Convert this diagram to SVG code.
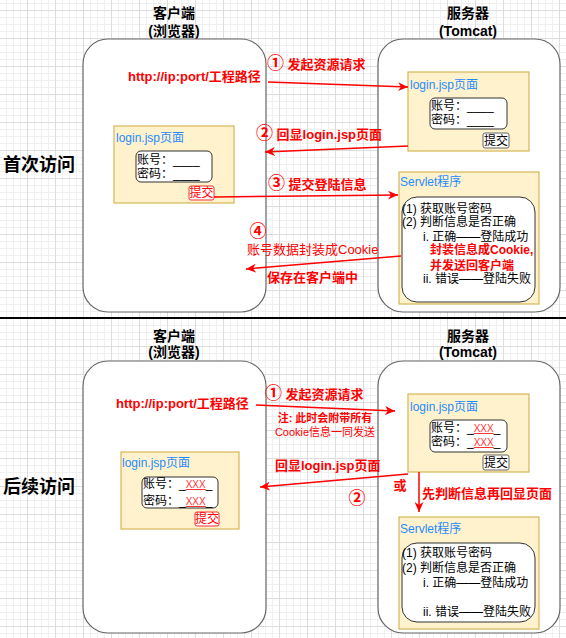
<svg xmlns="http://www.w3.org/2000/svg" width="566" height="638" viewBox="0 0 566 638">
<defs>
<pattern id="grid" width="28" height="28" patternUnits="userSpaceOnUse" x="-1" y="10">
<path d="M7.5 0V28M14.5 0V28M21.5 0V28M0 7.5H28M0 14.5H28M0 21.5H28" stroke="#f0f0f0" stroke-width="1" fill="none"/>
<path d="M0.5 0V28M0 0.5H28" stroke="#dddddd" stroke-width="1" fill="none"/>
</pattern>
<marker id="arr" markerUnits="userSpaceOnUse" markerWidth="11" markerHeight="9" refX="10" refY="4.5" orient="auto">
<path d="M0,0 L10,4.5 L0,9 L3,4.5 z" fill="#ff0000"/>
</marker>
<style>
text{font-family:"Liberation Sans","Noto Sans CJK SC",sans-serif;}
.title{font-size:14px;font-weight:bold;fill:#000;text-anchor:middle;}
.side{font-size:18px;font-weight:bold;fill:#000;}
.big{fill:#fff;stroke:#666;stroke-width:1.2;}
.page{fill:#fff2cc;stroke:#d6b656;stroke-width:1.2;}
.form{fill:#fff;stroke:#333;stroke-width:1;}
.blue{font-size:12px;fill:#1f8bff;}
.t{font-size:12px;fill:#000;}
.red{font-size:13px;font-weight:bold;fill:#ff0000;}
.rs{font-size:11px;font-weight:bold;fill:#ff0000;text-anchor:middle;}
.num{font-size:17px;}
.btn{fill:#fff;stroke:#666;stroke-width:1;}
.btnr{fill:#fff;stroke:#ff3333;stroke-width:1;}
.conn{stroke:#ff0000;stroke-width:1.5;fill:none;marker-end:url(#arr);}
.x{fill:#ff3333;font-size:10px;text-decoration:underline;}
</style>
</defs>
<rect width="566" height="638" fill="#fff"/>
<rect width="566" height="638" fill="url(#grid)"/>
<line x1="0" y1="318" x2="566" y2="318" stroke="#000" stroke-width="2"/>

<!-- TOP SECTION -->
<g id="label-first"><text class="side" x="3" y="171">首次访问</text></g>

<g id="client1">
<text class="title" x="174" y="18">客户端</text>
<text class="title" x="174" y="36">(浏览器)</text>
<rect class="big" x="83" y="39" width="183" height="273" rx="25"/>
<text class="red" x="128" y="81">http://ip:port/工程路径</text>
</g>

<g id="client1-login">
<rect class="page" x="114" y="126" width="120" height="77"/>
<text class="blue" x="116" y="142">login.jsp页面</text>
<rect class="form" x="136" y="151" width="76" height="31" rx="5"/>
<text class="t" x="137" y="164">账号：____</text>
<text class="t" x="137" y="178">密码：____</text>
<rect class="btnr" x="189" y="186" width="25" height="14" rx="2"/>
<text class="t" x="201.5" y="197" text-anchor="middle" fill="#ff0000" style="fill:#ff0000">提交</text>
</g>

<g id="server1">
<text class="title" x="468" y="18">服务器</text>
<text class="title" x="468" y="36">(Tomcat)</text>
<rect class="big" x="378" y="39" width="182" height="273" rx="25"/>
</g>

<g id="server1-login">
<rect class="page" x="408" y="72" width="121" height="79"/>
<text class="blue" x="410" y="89">login.jsp页面</text>
<rect class="form" x="430" y="98" width="77" height="31" rx="5"/>
<text class="t" x="431" y="110">账号：____</text>
<text class="t" x="431" y="124">密码：____</text>
<rect class="btn" x="483" y="133" width="26" height="15" rx="2"/>
<text class="t" x="496" y="145" text-anchor="middle">提交</text>
</g>

<g id="server1-servlet">
<rect class="page" x="399" y="172" width="140" height="132"/>
<text class="blue" x="400" y="186">Servlet程序</text>
<rect class="form" x="402" y="197" width="133" height="105" rx="15"/>
<text class="t" x="402" y="213">(1) 获取账号密码</text>
<text class="t" x="402" y="226">(2) 判断信息是否正确</text>
<text class="t" x="423" y="241">i. 正确——登陆成功</text>
<text class="red" x="430" y="254" style="font-size:12px">封装信息成Cookie,</text>
<text class="red" x="430" y="270" style="font-size:12px">并发送回客户端</text>
<text class="t" x="423" y="283">ii. 错误——登陆失败</text>
</g>

<!-- BOTTOM SECTION -->
<g id="label-later"><text class="side" x="3" y="493">后续访问</text></g>

<g id="client2">
<text class="title" x="174" y="341">客户端</text>
<text class="title" x="174" y="357">(浏览器)</text>
<rect class="big" x="83" y="361" width="183" height="272" rx="25"/>
<text class="red" x="116" y="408">http://ip:port/工程路径</text>
</g>

<g id="client2-login">
<rect class="page" x="121" y="452" width="118" height="77"/>
<text class="blue" x="122" y="467">login.jsp页面</text>
<rect class="form" x="142" y="477" width="76" height="31" rx="5"/>
<text class="t" x="143" y="488">账号：_<tspan class="x">XXX</tspan>_</text>
<text class="t" x="143" y="505">密码：_<tspan class="x">XXX</tspan>_</text>
<rect class="btnr" x="195" y="512" width="24" height="14" rx="2"/>
<text class="t" x="207" y="523" text-anchor="middle" style="fill:#ff0000">提交</text>
</g>

<g id="server2">
<text class="title" x="468" y="341">服务器</text>
<text class="title" x="468" y="357">(Tomcat)</text>
<rect class="big" x="378" y="361" width="182" height="272" rx="25"/>
</g>

<g id="server2-login">
<rect class="page" x="408" y="394" width="121" height="78"/>
<text class="blue" x="410" y="411">login.jsp页面</text>
<rect class="form" x="430" y="420" width="77" height="32" rx="5"/>
<text class="t" x="431" y="432">账号：_<tspan class="x">XXX</tspan>_</text>
<text class="t" x="431" y="446">密码：_<tspan class="x">XXX</tspan>_</text>
<rect class="btn" x="483" y="455" width="26" height="15" rx="2"/>
<text class="t" x="496" y="467" text-anchor="middle">提交</text>
</g>

<g id="server2-servlet">
<rect class="page" x="399" y="517" width="140" height="112"/>
<text class="blue" x="400" y="533">Servlet程序</text>
<rect class="form" x="402" y="543" width="133" height="79" rx="15"/>
<text class="t" x="402" y="557">(1) 获取账号密码</text>
<text class="t" x="402" y="572">(2) 判断信息是否正确</text>
<text class="t" x="423" y="587">i. 正确——登陆成功</text>
<text class="t" x="423" y="616">ii. 错误——登陆失败</text>
</g>

<g id="connectors">
<path class="conn" d="M268,82 L408,87"/>
<path class="conn" d="M408,146 L265,152"/>
<path class="conn" d="M214,197 L398,195"/>
<path class="conn" d="M401,256 L246,269"/>
<path class="conn" d="M256,405 L395,411"/>
<path class="conn" d="M408,474 L260,487"/>
<path class="conn" d="M419,472 L419,512"/>
</g>

<g id="connector-labels">
<text class="red" x="267" y="69"><tspan class="num">①</tspan> 发起资源请求</text>
<text class="red" x="256" y="139"><tspan class="num">②</tspan> 回显login.jsp页面</text>
<text class="red" x="268" y="189"><tspan class="num">③</tspan> 提交登陆信息</text>
<text class="red num" x="258" y="237" text-anchor="middle">④</text>
<text class="red" x="247" y="254" style="font-weight:normal">账号数据封装成Cookie</text>
<text class="red" x="267" y="282">保存在客户端中</text>

<text class="red" x="265" y="399"><tspan class="num">①</tspan> 发起资源请求</text>
<text class="rs" x="325" y="422">注: 此时会附带所有</text>
<text class="rs" x="325" y="436" style="font-weight:normal">Cookie信息一同发送</text>
<text class="red" x="275" y="470">回显login.jsp页面</text>
<text class="red num" x="357" y="504" text-anchor="middle">②</text>
<text class="red" x="400" y="490" text-anchor="middle">或</text>
<text class="red" x="422" y="498">先判断信息再回显页面</text>
</g>
</svg>
